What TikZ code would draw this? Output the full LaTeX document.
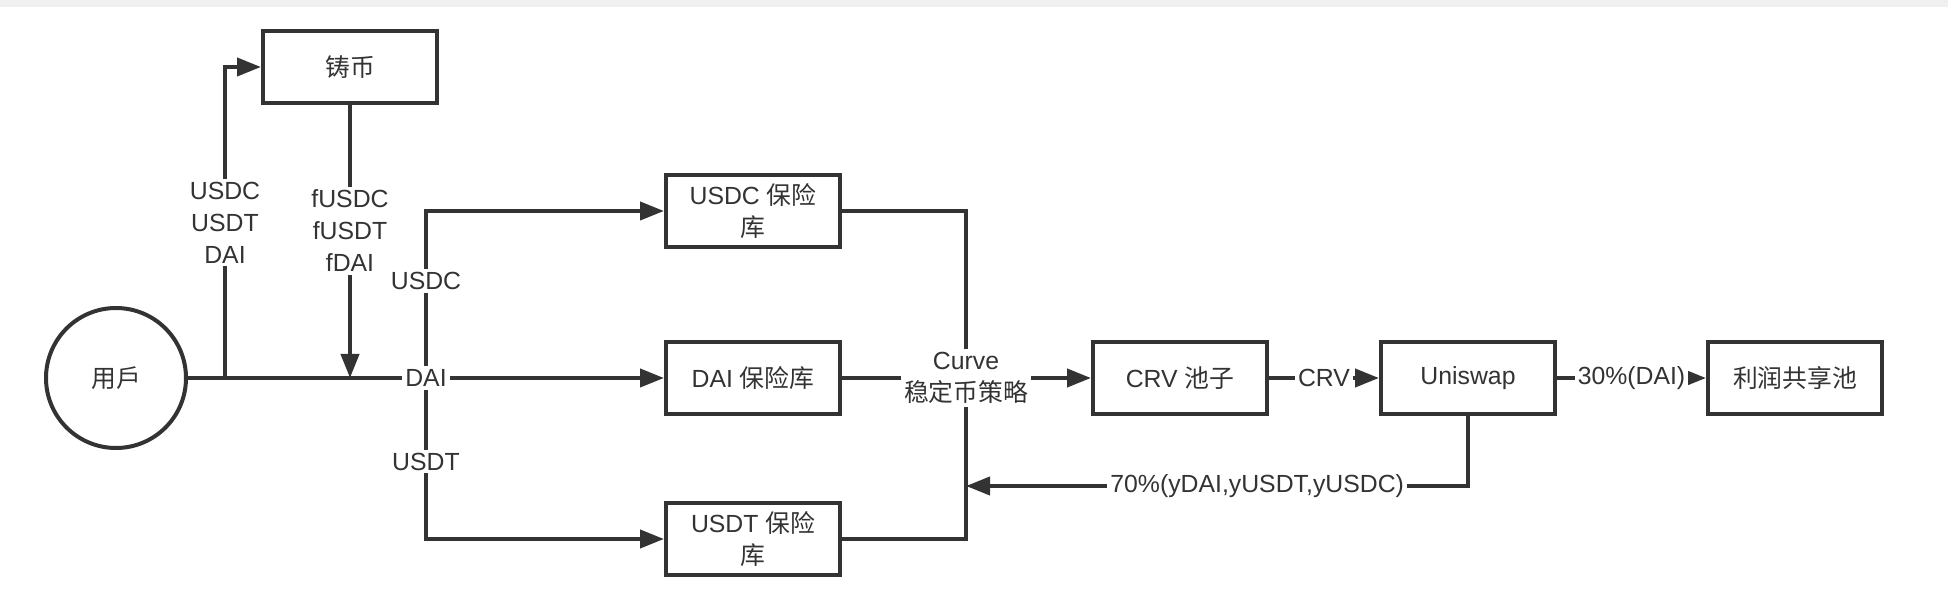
\documentclass[tikz,border=0pt]{standalone}
\usepackage{fontspec}
\setmainfont{Liberation Sans}
\newfontfamily\cjk{Noto Sans CJK SC}
\usetikzlibrary{arrows.meta}
\definecolor{ink}{HTML}{333333}

\begin{document}
\begin{tikzpicture}[
    x=0.5pt, y=-0.5pt,
    every node/.style={text=ink, font=\fontsize{12.4}{16}\selectfont},
    block/.style={rectangle, draw=ink, line width=2pt, minimum width=87pt, minimum height=36pt, inner sep=2pt, align=center},
    actor/.style={circle, draw=ink, line width=2pt, minimum size=70pt, inner sep=0},
    tag/.style={fill=white, inner sep=1.5pt, align=center},
    arrow/.style={draw=ink, line width=2pt, >={Triangle[length=12pt,width=9pt]}},
    pre/.style={arrow, <-},
    post/.style={arrow, ->},
    link/.style={arrow, -}
  ]
  \useasboundingbox (0,0) rectangle (1948,608);
  \fill[black!6] (0,0) rectangle (1948,7);

  \node[actor] (user) at (116,378) {\cjk 用戶};
  \node[block] (mint) at (350,67) {\cjk 铸币};
  \node[block] (usdcvault) at (753,211) {USDC {\cjk 保险}\\{\cjk 库}};
  \node[block] (daivault) at (753,378) {DAI {\cjk 保险库}};
  \node[block] (usdtvault) at (753,539) {USDT {\cjk 保险}\\{\cjk 库}};

  \coordinate (split) at (225,378);
  \coordinate (minted) at (350,378);
  \coordinate (fork) at (426,378);
  \coordinate (back) at (966,486);

  \draw[post] (fork) |- node[tag, pos=0.29] {USDC} (usdcvault);
  \draw[post] (fork) |- node[tag, pos=0.26] {USDT} (usdtvault);
  \draw[post] (split) |- node[tag, pos=0.25] {USDC\\USDT\\DAI} (mint);
  \draw[post] (mint) -- node[tag, pos=0.46] {fUSDC\\fUSDT\\fDAI} (minted);
  \draw[post] (user) -- node[tag] {DAI} (daivault);

  \node[block] (profit) at (1795,378) {\cjk 利润共享池};
  \node[block] (crvpool) at (1180,378) {CRV {\cjk 池子}};
  \node[block] (uniswap) at (1468,378) {Uniswap}
    edge [pre] node[tag] {CRV} (crvpool)
    edge [post] node[tag] {30\%(DAI)} (profit);

  \node[tag] (curve) at (966,378) {Curve\\{\cjk 稳定币策略}}
    edge [link] (daivault)
    edge [post] (crvpool);
  \draw[link] (usdcvault) -| (curve);
  \draw[link] (usdtvault) -| (curve);
  \draw[post] (uniswap) |- node[tag, pos=0.71] {70\%(yDAI,yUSDT,yUSDC)} (back);
\end{tikzpicture}
\end{document}
